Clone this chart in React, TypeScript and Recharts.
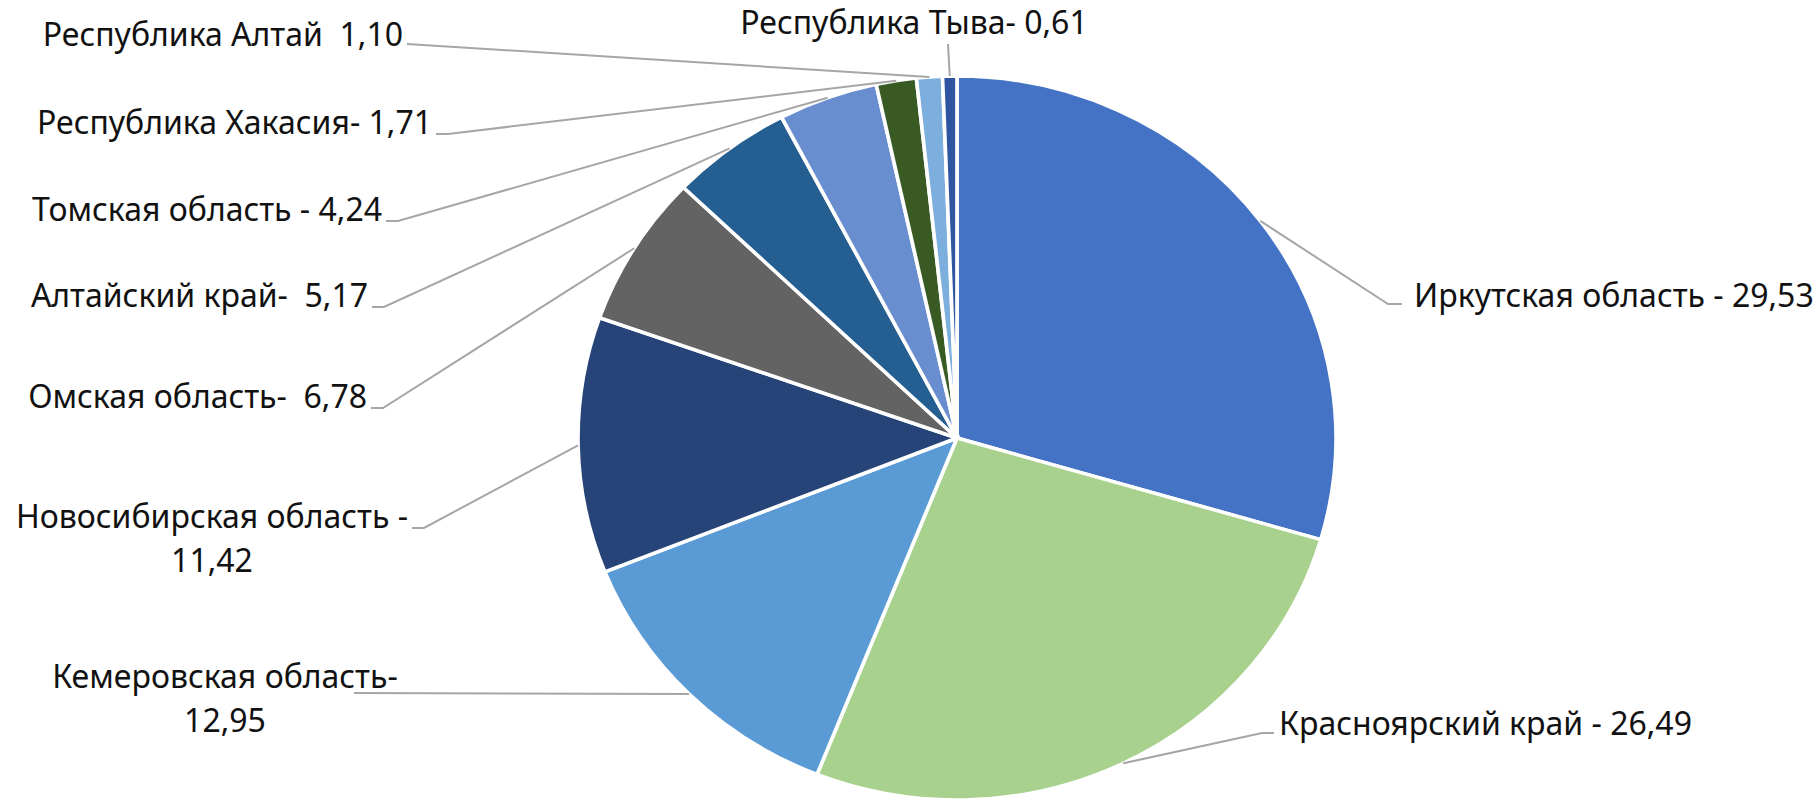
import React from 'react';
import { PieChart, Pie, Cell } from 'recharts';

const regions = [
  'Иркутская область',
  'Красноярский край',
  'Кемеровская область',
  'Новосибирская область',
  'Омская область',
  'Алтайский край',
  'Томская область',
  'Республика Хакасия',
  'Республика Алтай',
  'Республика Тыва',
];
const shares = [29.53, 26.49, 12.95, 11.42, 6.78, 5.17, 4.24, 1.71, 1.1, 0.61];
const labelLines = [
  ['Иркутская область - 29,53'],
  ['Красноярский край - 26,49'],
  ['Кемеровская область-', '12,95'],
  ['Новосибирская область -', '11,42'],
  ['Омская область-  6,78'],
  ['Алтайский край-  5,17'],
  ['Томская область - 4,24'],
  ['Республика Хакасия- 1,71'],
  ['Республика Алтай  1,10'],
  ['Республика Тыва- 0,61'],
];
const colors = ['#4472C4', '#A9D18E', '#5B9BD5', '#264478', '#636363', '#255E91', '#698ED0', '#3A5A24', '#7CAFDD', '#2F55A0'];

const data = regions.map((name, i) => ({ name, value: shares[i] }));

// where Excel's labels were dragged to: text anchor + leader line elbow/tail
const labelLayout = [
  { x: 1414, y: 307, anchor: 'start', elbow: [1388, 304], tail: [1402, 304] },
  { x: 1279, y: 735, anchor: 'start', elbow: [1262, 733], tail: [1274, 733] },
  { x: 225, y: 688, anchor: 'middle', elbow: [354, 693], tail: [354, 693] },
  { x: 212, y: 528, anchor: 'middle', elbow: [424, 528], tail: [412, 528] },
  { x: 367, y: 408, anchor: 'end', elbow: [383, 408], tail: [371, 408] },
  { x: 368, y: 307, anchor: 'end', elbow: [384, 307], tail: [372, 307] },
  { x: 382, y: 221, anchor: 'end', elbow: [398, 221], tail: [386, 221] },
  { x: 432, y: 134, anchor: 'end', elbow: [448, 134], tail: [436, 134] },
  { x: 403, y: 46, anchor: 'end', elbow: [407, 44], tail: [407, 44] },
  { x: 914, y: 34, anchor: 'middle', elbow: [948, 44], tail: [948, 44] },
];

const SX = 1.047; // the pie in the picture is slightly wider than tall
const RAD = Math.PI / 180;
const FONT = '"Noto Sans", sans-serif';

const renderLabel = (props: any) => {
  const { cx, cy, midAngle, outerRadius, index } = props;
  const lay = labelLayout[index];
  const ex = cx + outerRadius * SX * Math.cos(-midAngle * RAD);
  const ey = cy + outerRadius * Math.sin(-midAngle * RAD);
  const pts = `${ex},${ey} ${lay.elbow[0]},${lay.elbow[1]} ${lay.tail[0]},${lay.tail[1]}`;
  return (
    <g key={`lbl-${index}`}>
      <polyline points={pts} fill="none" stroke="#A6A6A6" strokeWidth={2} />
      <text
        x={lay.x}
        y={lay.y}
        textAnchor={lay.anchor as any}
        fill="#111"
        fontSize={32}
        fontFamily={FONT}
        style={{ whiteSpace: 'pre' }}
      >
        {labelLines[index].map((t, k) => (
          <tspan key={k} x={lay.x} dy={k === 0 ? 0 : 44}>
            {t}
          </tspan>
        ))}
      </text>
    </g>
  );
};

export default function App() {
  return (
    <div style={{ position: 'absolute', left: 0, top: 0, width: 1820, height: 800, background: '#fff' }}>
      <style>{`.recharts-pie-sector { transform-origin: 957px 438px; transform: scaleX(${SX}); }`}</style>
      <PieChart width={1820} height={800} margin={{ top: 0, right: 0, bottom: 0, left: 0 }}>
        <Pie
          data={data}
          dataKey="value"
          nameKey="name"
          cx={957}
          cy={438}
          outerRadius={362}
          startAngle={90}
          endAngle={-270}
          stroke="#fff"
          strokeWidth={3.5}
          label={renderLabel}
          labelLine={false}
          isAnimationActive={false}
        >
          {data.map((d, i) => (
            <Cell key={d.name} fill={colors[i]} />
          ))}
        </Pie>
      </PieChart>
    </div>
  );
}
